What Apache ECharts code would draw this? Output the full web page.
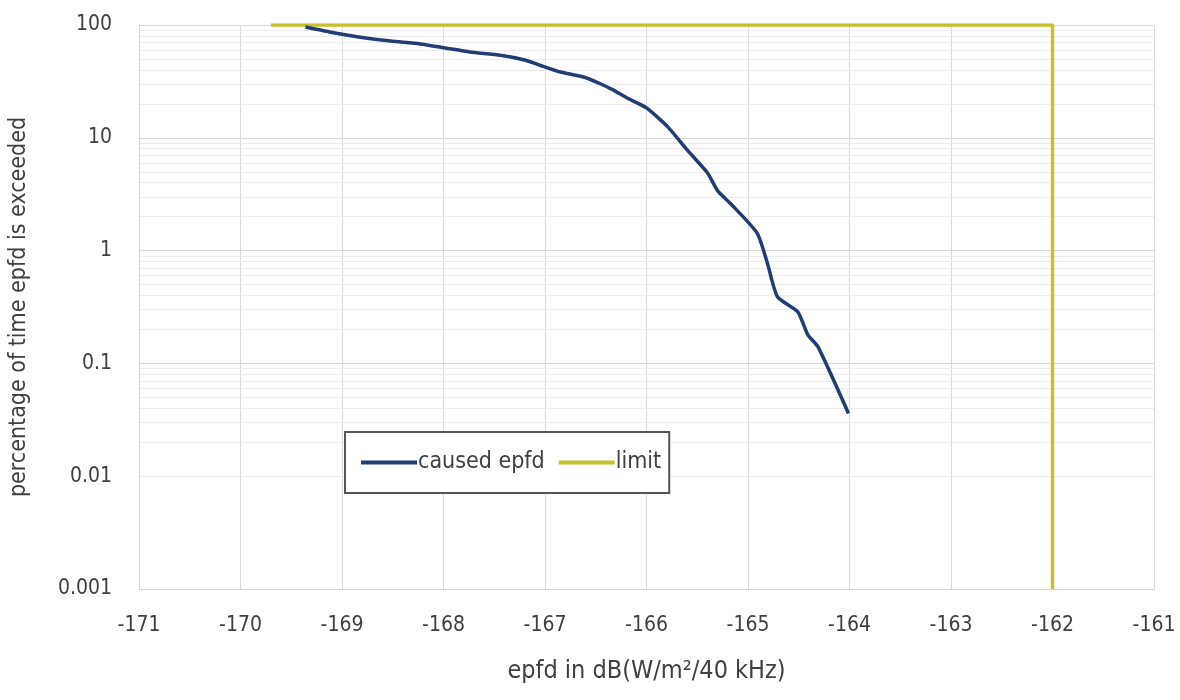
<!DOCTYPE html>
<html>
<head>
<meta charset="utf-8">
<script src="https://cdn.jsdelivr.net/npm/echarts@6/dist/echarts.min.js"></script>
<style>
html,body{margin:0;padding:0;background:#fff;}
#chart{width:1180px;height:700px;}
</style>
</head>
<body>
<div id="chart"></div>
<script>
// ---- data ----
var causedX = [-169.36, -169.07, -168.82, -168.52, -168.23, -167.98, -167.74, -167.44, -167.20, -167.05, -166.85, -166.62, -166.45, -166.33, -166.19, -166.00, -165.79, -165.60, -165.40, -165.30, -165.17, -164.91, -164.81, -164.71, -164.51, -164.41, -164.31, -164.01];
var causedY = [96, 85, 78, 72, 68, 62.5, 57.6, 54, 49, 44, 38.3, 34.6, 30, 26.6, 22.5, 18.4, 12.5, 7.8, 4.9, 3.4, 2.6, 1.43, 0.78, 0.39, 0.286, 0.179, 0.14, 0.036];
var limitX = [-169.7, -162, -162];
var limitY = [100, 100, 0.001];
var xTicks = [-171, -170, -169, -168, -167, -166, -165, -164, -163, -162, -161];
var yTicks = [0.001, 0.01, 0.1, 1, 10, 100];
var minorMultipliers = [2, 3, 4, 5, 6, 7, 8, 9];
var seriesNames = ['caused epfd', 'limit'];

var FONT = '"Liberation Sans Narrow", "DejaVu Sans Condensed", "Roboto", sans-serif';
var TXT = '#404040';

function pairs(xs, ys) { return xs.map(function (x, i) { return [x, ys[i]]; }); }

var minorLines = [];
for (var d = 0; d < yTicks.length - 1; d++) {
  minorMultipliers.forEach(function (m) { minorLines.push({ yAxis: yTicks[d] * m }); });
}

var chart = echarts.init(document.getElementById('chart'), null, { renderer: 'canvas' });
chart.setOption({
  animation: false,
  backgroundColor: '#ffffff',
  textStyle: { fontFamily: FONT },
  grid: { left: 139, right: 26, top: 25, bottom: 111, containLabel: false },
  legend: {
    data: seriesNames.map(function (n) { return { name: n, icon: 'rect' }; }),
    left: 345, top: 432,
    padding: [19, 8, 19, 16],
    itemGap: 14,
    itemWidth: 56, itemHeight: 4,
    borderColor: '#555555', borderWidth: 2,
    backgroundColor: '#ffffff',
    textStyle: { fontFamily: FONT, fontSize: 23, color: TXT, padding: [0, 0, 0, -4] }
  },
  xAxis: {
    type: 'value', min: -171, max: -161, interval: 1,
    name: 'epfd in dB(W/m²/40 kHz)', nameLocation: 'middle', nameGap: 70,
    nameTextStyle: { fontFamily: FONT, fontSize: 25, color: TXT },
    axisLine: { show: true, lineStyle: { color: '#d4d4d4', width: 1 } },
    axisTick: { show: false },
    axisLabel: { fontFamily: FONT, fontSize: 21, color: TXT, margin: 26 },
    splitLine: { show: true, lineStyle: { color: '#d9d9d9', width: 1 } }
  },
  yAxis: {
    type: 'log', logBase: 10, min: 0.001, max: 100,
    name: 'percentage of time epfd is exceeded', nameLocation: 'middle', nameGap: 108,
    nameTextStyle: { fontFamily: FONT, fontSize: 23, color: TXT },
    axisLine: { show: true, lineStyle: { color: '#d4d4d4', width: 1 } },
    axisTick: { show: false },
    axisLabel: { fontFamily: FONT, fontSize: 21, color: TXT, margin: 27,
      formatter: function (v) { return String(+v.toPrecision(3)); } },
    splitLine: { show: true, lineStyle: { color: '#d9d9d9', width: 1 } }
  },
  series: [
    {
      name: 'minor', type: 'line', data: [], silent: true,
      markLine: {
        silent: true, symbol: 'none', label: { show: false },
        lineStyle: { color: '#ececec', width: 1, type: 'solid' },
        data: minorLines, z: 0
      },
      z: 0
    },
    {
      name: seriesNames[0], type: 'line', data: pairs(causedX, causedY),
      symbol: 'none', smooth: 0.2,
      lineStyle: { color: '#223d73', width: 3.5 },
      itemStyle: { color: '#223d73' }, z: 3
    },
    {
      name: seriesNames[1], type: 'line', data: pairs(limitX, limitY),
      symbol: 'none',
      lineStyle: { color: '#c8bf2c', width: 3.5 },
      itemStyle: { color: '#c8bf2c' }, z: 2
    }
  ]
});
</script>
</body>
</html>
